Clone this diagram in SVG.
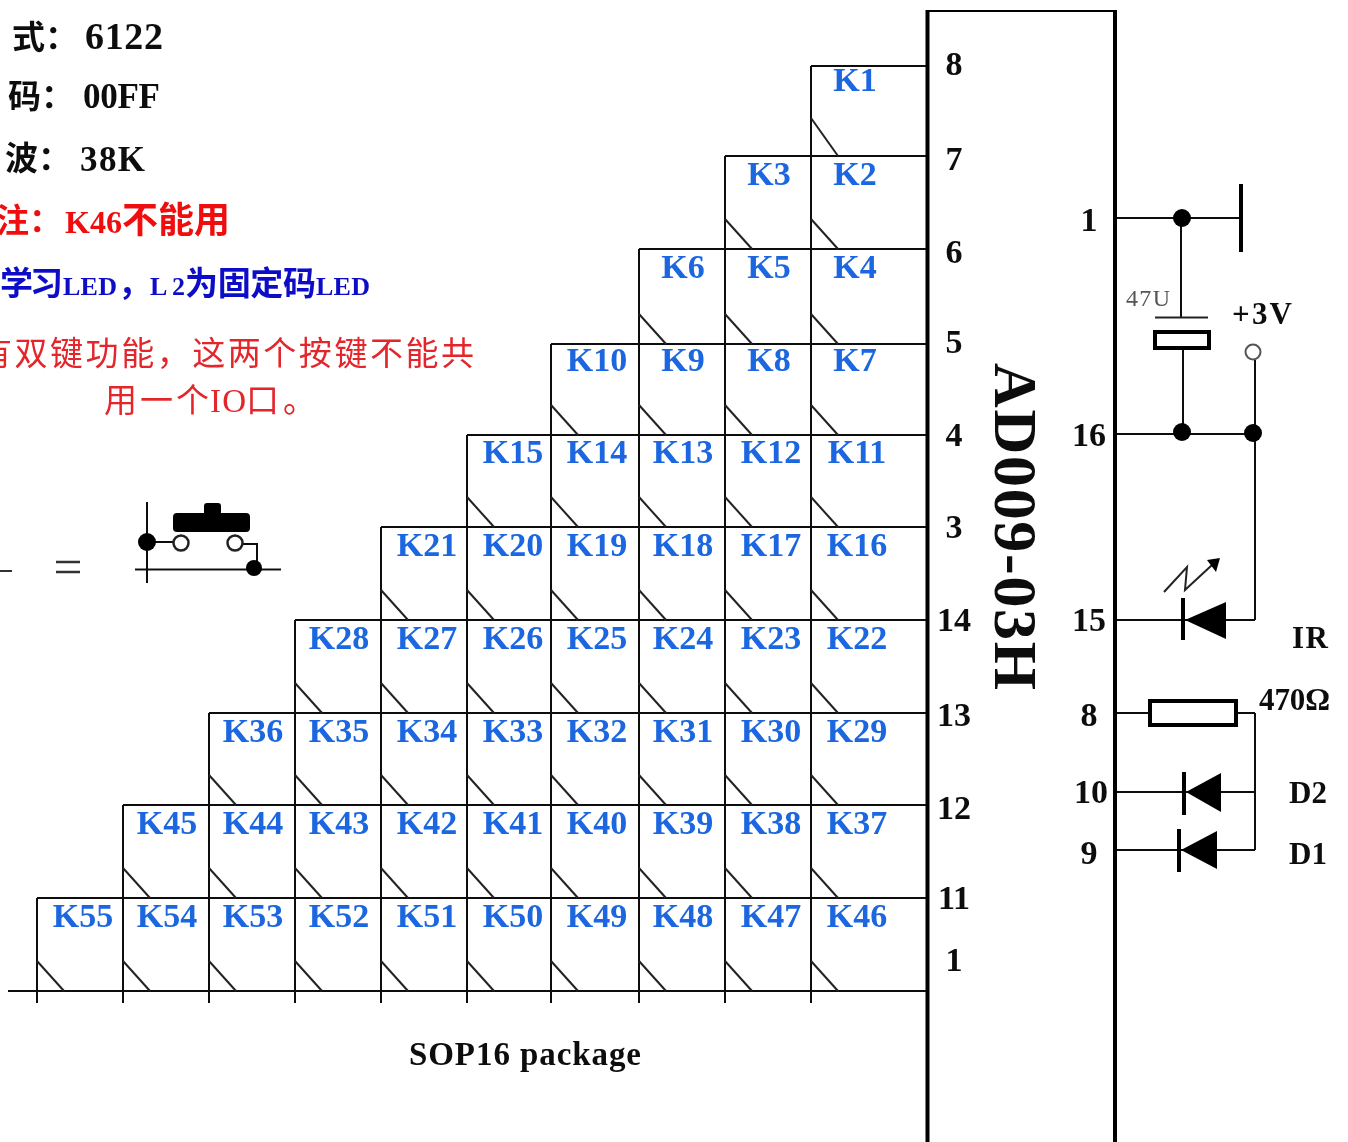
<svg xmlns="http://www.w3.org/2000/svg" width="1348" height="1142" viewBox="0 0 1348 1142">
<style>
.w{fill:none;stroke:#111;stroke-width:2}
.t{fill:none;stroke:#000;stroke-width:4}
.f{fill:#000;stroke:none}
.k{font:bold 34px "Liberation Serif",serif;fill:#1a66e0;text-anchor:middle;transform:translateY(-1px)}
.p{font:bold 34px "Liberation Serif",serif;fill:#111;text-anchor:middle;transform:translateY(-1px)}
.l{font:bold 31px "Liberation Serif",serif;fill:#111}
.c{font:bold 33px "Noto Sans CJK SC",sans-serif;fill:#111}
.m{font:bold 35px "Liberation Serif","Noto Sans CJK SC",serif;fill:#111}
.s{font:bold 26px "Liberation Serif",serif}
.r{fill:#f01010}.b{fill:#0a0ac8}
.e{font:400 33px "Noto Sans CJK SC",sans-serif;fill:#e4252b}
.d{fill:none;stroke:#222;stroke-width:2}
</style>
<defs><filter id="soft" x="0" y="0" width="100%" height="100%"><feGaussianBlur stdDeviation="0.5"/></filter></defs>
<rect width="1348" height="1142" fill="#fff"/>
<g filter="url(#soft)">
<g id="notes">
<text class="c" x="12" y="49">式：</text><text class="m" x="85" y="49" textLength="78" style="font-size:38px">6122</text>
<text class="c" x="8" y="108">码：</text><text class="m" x="83" y="108" textLength="77">00FF</text>
<text class="c" x="5" y="170">波：</text><text class="m" x="80" y="171" textLength="65">38K</text>
<text class="c r" x="-4" y="232">注：</text><text class="m r" x="65" y="233" textLength="57" style="font-size:32px">K46</text><text class="c r" x="122" y="233" style="font-size:36px">不能用</text>
<text class="c b" x="0" y="295" textLength="63">学习</text><text class="m b s" x="63" y="295" textLength="54">LED</text><text class="c b" x="118" y="295">，</text><text class="m b s" x="150" y="295" textLength="35">L2</text><text class="c b" x="185" y="295" textLength="131">为固定码</text><text class="m b s" x="316" y="295" textLength="54">LED</text>
<text class="e" x="-21" y="365" textLength="495">有双键功能，这两个按键不能共</text>
<text class="e" x="104" y="412" textLength="105">用一个</text><text class="e" x="210" y="412" textLength="36" style="font-family:'Liberation Serif',serif">IO</text><text class="e" x="246" y="412" textLength="70">口。</text>
<text x="409" y="1065" style="font:bold 33px 'Liberation Serif',serif;fill:#111" textLength="232">SOP16 package</text>
</g>
<g id="switch-legend">
<path d="M0 571H12" stroke="#333" stroke-width="2"/>
<path d="M56 562H80M56 572H80" stroke="#333" stroke-width="2.5"/>
<path class="w" d="M147 502V583M135 569.500H281M147 542H173M243 544H257V568"/>
<rect class="f" x="173" y="513" width="77" height="19" rx="4"/>
<rect class="f" x="204" y="503" width="17" height="12" rx="3"/>
<circle class="f" cx="147" cy="542" r="9"/><circle class="f" cx="254" cy="568" r="8"/>
<circle cx="181" cy="543" r="7.500" fill="#fff" stroke="#222" stroke-width="2.500"/><circle cx="235" cy="543" r="7.500" fill="#fff" stroke="#222" stroke-width="2.500"/>
</g>
<g id="connectors">
<path class="w" d="M811 66H927M725 156H927M639 249H927M551 344H927M467 435H927M381 527H927M295 620H927M209 713H927M123 805H927M37 898H927M8 991H927"/>
<path class="w" d="M37 898V1003M123 805V1003M209 713V1003M295 620V1003M381 527V1003M467 435V1003M551 344V1003M639 249V1003M725 156V1003M811 66V1003"/>
<path class="w" d="M1115 218H1241M1181 218V317M1183 348V435M1115 434H1254M1255 360V620M1115 620H1255M1115 713H1255M1255 713V850M1115 792H1255M1115 850H1255"/>
</g>
<g id="K1"><text class="k" x="855" y="92">K1</text><path class="d" d="M811 118L838 156"/></g>
<g id="K3"><text class="k" x="769" y="186">K3</text><path class="d" d="M725 219l27 30"/></g>
<g id="K2"><text class="k" x="855" y="186">K2</text><path class="d" d="M811 219l27 30"/></g>
<g id="K6"><text class="k" x="683" y="279">K6</text><path class="d" d="M639 314l27 30"/></g>
<g id="K5"><text class="k" x="769" y="279">K5</text><path class="d" d="M725 314l27 30"/></g>
<g id="K4"><text class="k" x="855" y="279">K4</text><path class="d" d="M811 314l27 30"/></g>
<g id="K10"><text class="k" x="597" y="372">K10</text><path class="d" d="M551 405l27 30"/></g>
<g id="K9"><text class="k" x="683" y="372">K9</text><path class="d" d="M639 405l27 30"/></g>
<g id="K8"><text class="k" x="769" y="372">K8</text><path class="d" d="M725 405l27 30"/></g>
<g id="K7"><text class="k" x="855" y="372">K7</text><path class="d" d="M811 405l27 30"/></g>
<g id="K15"><text class="k" x="513" y="464">K15</text><path class="d" d="M467 497l27 30"/></g>
<g id="K14"><text class="k" x="597" y="464">K14</text><path class="d" d="M551 497l27 30"/></g>
<g id="K13"><text class="k" x="683" y="464">K13</text><path class="d" d="M639 497l27 30"/></g>
<g id="K12"><text class="k" x="771" y="464">K12</text><path class="d" d="M725 497l27 30"/></g>
<g id="K11"><text class="k" x="857" y="464">K11</text><path class="d" d="M811 497l27 30"/></g>
<g id="K21"><text class="k" x="427" y="557">K21</text><path class="d" d="M381 590l27 30"/></g>
<g id="K20"><text class="k" x="513" y="557">K20</text><path class="d" d="M467 590l27 30"/></g>
<g id="K19"><text class="k" x="597" y="557">K19</text><path class="d" d="M551 590l27 30"/></g>
<g id="K18"><text class="k" x="683" y="557">K18</text><path class="d" d="M639 590l27 30"/></g>
<g id="K17"><text class="k" x="771" y="557">K17</text><path class="d" d="M725 590l27 30"/></g>
<g id="K16"><text class="k" x="857" y="557">K16</text><path class="d" d="M811 590l27 30"/></g>
<g id="K28"><text class="k" x="339" y="650">K28</text><path class="d" d="M295 683l27 30"/></g>
<g id="K27"><text class="k" x="427" y="650">K27</text><path class="d" d="M381 683l27 30"/></g>
<g id="K26"><text class="k" x="513" y="650">K26</text><path class="d" d="M467 683l27 30"/></g>
<g id="K25"><text class="k" x="597" y="650">K25</text><path class="d" d="M551 683l27 30"/></g>
<g id="K24"><text class="k" x="683" y="650">K24</text><path class="d" d="M639 683l27 30"/></g>
<g id="K23"><text class="k" x="771" y="650">K23</text><path class="d" d="M725 683l27 30"/></g>
<g id="K22"><text class="k" x="857" y="650">K22</text><path class="d" d="M811 683l27 30"/></g>
<g id="K36"><text class="k" x="253" y="743">K36</text><path class="d" d="M209 775l27 30"/></g>
<g id="K35"><text class="k" x="339" y="743">K35</text><path class="d" d="M295 775l27 30"/></g>
<g id="K34"><text class="k" x="427" y="743">K34</text><path class="d" d="M381 775l27 30"/></g>
<g id="K33"><text class="k" x="513" y="743">K33</text><path class="d" d="M467 775l27 30"/></g>
<g id="K32"><text class="k" x="597" y="743">K32</text><path class="d" d="M551 775l27 30"/></g>
<g id="K31"><text class="k" x="683" y="743">K31</text><path class="d" d="M639 775l27 30"/></g>
<g id="K30"><text class="k" x="771" y="743">K30</text><path class="d" d="M725 775l27 30"/></g>
<g id="K29"><text class="k" x="857" y="743">K29</text><path class="d" d="M811 775l27 30"/></g>
<g id="K45"><text class="k" x="167" y="835">K45</text><path class="d" d="M123 868l27 30"/></g>
<g id="K44"><text class="k" x="253" y="835">K44</text><path class="d" d="M209 868l27 30"/></g>
<g id="K43"><text class="k" x="339" y="835">K43</text><path class="d" d="M295 868l27 30"/></g>
<g id="K42"><text class="k" x="427" y="835">K42</text><path class="d" d="M381 868l27 30"/></g>
<g id="K41"><text class="k" x="513" y="835">K41</text><path class="d" d="M467 868l27 30"/></g>
<g id="K40"><text class="k" x="597" y="835">K40</text><path class="d" d="M551 868l27 30"/></g>
<g id="K39"><text class="k" x="683" y="835">K39</text><path class="d" d="M639 868l27 30"/></g>
<g id="K38"><text class="k" x="771" y="835">K38</text><path class="d" d="M725 868l27 30"/></g>
<g id="K37"><text class="k" x="857" y="835">K37</text><path class="d" d="M811 868l27 30"/></g>
<g id="K55"><text class="k" x="83" y="928">K55</text><path class="d" d="M37 961l27 30"/></g>
<g id="K54"><text class="k" x="167" y="928">K54</text><path class="d" d="M123 961l27 30"/></g>
<g id="K53"><text class="k" x="253" y="928">K53</text><path class="d" d="M209 961l27 30"/></g>
<g id="K52"><text class="k" x="339" y="928">K52</text><path class="d" d="M295 961l27 30"/></g>
<g id="K51"><text class="k" x="427" y="928">K51</text><path class="d" d="M381 961l27 30"/></g>
<g id="K50"><text class="k" x="513" y="928">K50</text><path class="d" d="M467 961l27 30"/></g>
<g id="K49"><text class="k" x="597" y="928">K49</text><path class="d" d="M551 961l27 30"/></g>
<g id="K48"><text class="k" x="683" y="928">K48</text><path class="d" d="M639 961l27 30"/></g>
<g id="K47"><text class="k" x="771" y="928">K47</text><path class="d" d="M725 961l27 30"/></g>
<g id="K46"><text class="k" x="857" y="928">K46</text><path class="d" d="M811 961l27 30"/></g>
<g id="chip">
<path class="t" d="M927.500 1142V10H1115V1142"/>
<text transform="translate(995,363) rotate(90)" style="font:bold 62px 'Liberation Serif',serif;fill:#111" textLength="327">AD009-03H</text>
<text class="p" x="954" y="76">8</text><text class="p" x="954" y="171">7</text><text class="p" x="954" y="264">6</text><text class="p" x="954" y="354">5</text><text class="p" x="954" y="447">4</text><text class="p" x="954" y="539">3</text><text class="p" x="954" y="632">14</text><text class="p" x="954" y="727">13</text><text class="p" x="954" y="820">12</text><text class="p" x="954" y="910">11</text><text class="p" x="954" y="972">1</text>
<text class="p" x="1089" y="232">1</text><text class="p" x="1089" y="447">16</text><text class="p" x="1089" y="632">15</text><text class="p" x="1089" y="727">8</text><text class="p" x="1091" y="804">10</text><text class="p" x="1089" y="865">9</text>
</g>
<g id="capacitor">
<path class="t" d="M1241 184V252"/>
<circle class="f" cx="1182" cy="218" r="9"/>
<path d="M1155 317.500H1208" stroke="#222" stroke-width="2"/>
<rect class="t" x="1155" y="332" width="54" height="16" style="fill:#fff"/>
<circle class="f" cx="1182" cy="432" r="9"/><circle class="f" cx="1253" cy="433" r="9"/>
<circle cx="1253" cy="352" r="7.500" fill="#fff" stroke="#555" stroke-width="2"/>
<text x="1126" y="306" style="font:24px 'Liberation Serif',serif;fill:#555" textLength="44">47U</text>
<text class="l" x="1232" y="324" textLength="60">+3V</text>
</g>
<g id="IR">
<path class="t" d="M1183 598V640"/>
<polygon class="f" points="1185,620 1226,602 1226,639"/>
<path d="M1164 592L1187 567L1185 590L1212 565" fill="none" stroke="#222" stroke-width="2"/>
<polygon class="f" points="1220,558 1207,560 1216,572"/>
<text class="l" x="1292" y="648" textLength="36">IR</text>
</g>
<g id="R470">
<rect class="t" x="1150" y="701" width="86" height="24" style="fill:#fff"/>
<text class="l" x="1259" y="710" textLength="71">470Ω</text>
</g>
<g id="D2">
<path class="t" d="M1184 772V815"/>
<polygon class="f" points="1186,792 1221,773 1221,812"/>
<text class="l" x="1289" y="803">D2</text>
</g>
<g id="D1">
<path class="t" d="M1179 829V872"/>
<polygon class="f" points="1181,850 1217,831 1217,869"/>
<text class="l" x="1289" y="864">D1</text>
</g>
</g>
</svg>
